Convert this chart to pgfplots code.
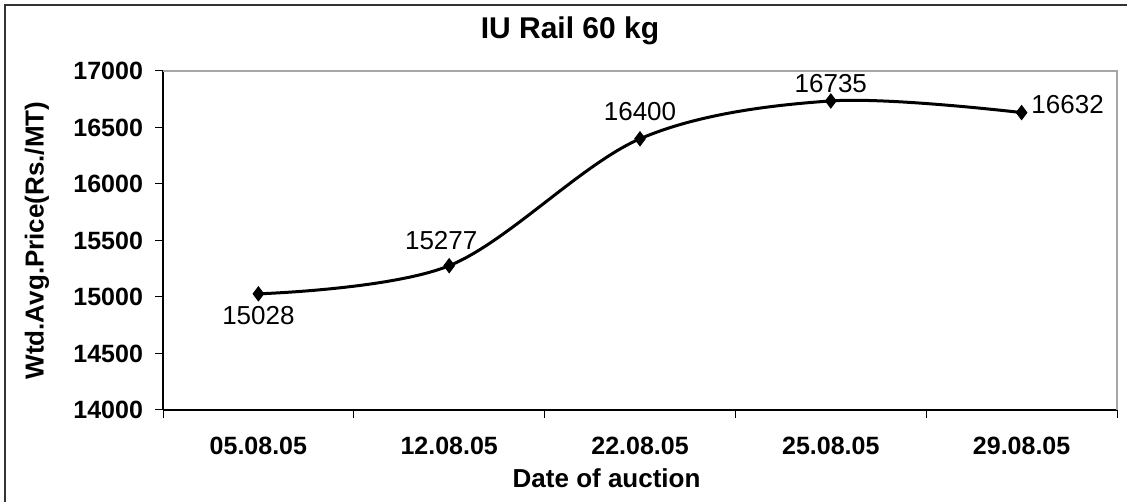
\documentclass[border=0pt]{standalone}
\usepackage{fontspec}
\setmainfont{Liberation Sans}
\usepackage{pgfplots}
\pgfplotsset{compat=1.18}
\begin{document}
\begin{tikzpicture}
\begin{axis}[
  at={(81.5pt,46pt)}, anchor=south west,
  scale only axis, width=477pt, height=169.5pt,
  xmin=-0.5, xmax=4.5, ymin=14000, ymax=17000,
  axis x line*=bottom, axis y line*=left,
  axis line style={black, line width=0.6pt},
  xtick={-0.5,0.5,1.5,2.5,3.5,4.5},
  x tick label as interval,
  xticklabels={05.08.05,12.08.05,22.08.05,25.08.05,29.08.05},
  ytick={14000,14500,...,17000},
  scaled y ticks=false,
  tick align=outside, major tick length=4pt,
  tick style={black, line width=0.5pt},
  /pgf/number format/assume math mode=true,
  /pgf/number format/1000 sep={},
  /pgf/number format/fixed,
  tick label style={font=\fontsize{12.5}{14}\selectfont\bfseries},
  xticklabel style={yshift=-6pt},
  yticklabel style={xshift=-2.5pt},
  title={IU Rail 60 kg},
  title style={at={(axis description cs:0.4266,1.0826)}, anchor=center, font=\fontsize{15}{18}\selectfont\bfseries},
  xlabel={Date of auction},
  xlabel style={at={(axis description cs:0.465,-0.2006)}, anchor=center, font=\fontsize{13}{15}\selectfont\bfseries},
  ylabel={Wtd.Avg.Price(Rs./MT)},
  ylabel style={at={(axis description cs:-0.132,0.5)}, anchor=center, font=\fontsize{13}{15}\selectfont\bfseries},
  clip=false,
]
\draw[gray!70, line width=0.6pt] (rel axis cs:0,1) -- (rel axis cs:1,1) -- (rel axis cs:1,0);
\addplot[black, line width=1.5pt, smooth, tension=0.55,
  mark=diamond*, mark size=3.5pt, mark options={solid, fill=black, line width=0.5pt},
  nodes near coords, point meta=explicit symbolic,
  visualization depends on={\thisrow{dx}\as\dx},
  visualization depends on={\thisrow{dy}\as\dy},
  nodes near coords style={anchor=center, xshift=\dx pt, yshift=\dy pt, font=\fontsize{13}{15}\selectfont, text=black}]
table[x=x, y=y, meta=lbl] {
x y lbl dx dy
0 15028 15028 0 -11
1 15277 15277 -4 12.5
2 16400 16400 0 13.5
3 16735 16735 0 8.5
4 16632 16632 23 4
};
\end{axis}
\pgfresetboundingbox
\path[use as bounding box] (0,0) rectangle (563.5pt,251pt);
\draw[overlay, line width=0.8pt, black!80] (2.5pt,-1pt) -- (2.5pt,248.5pt) -- (564.5pt,248.5pt);
\end{tikzpicture}
\end{document}
